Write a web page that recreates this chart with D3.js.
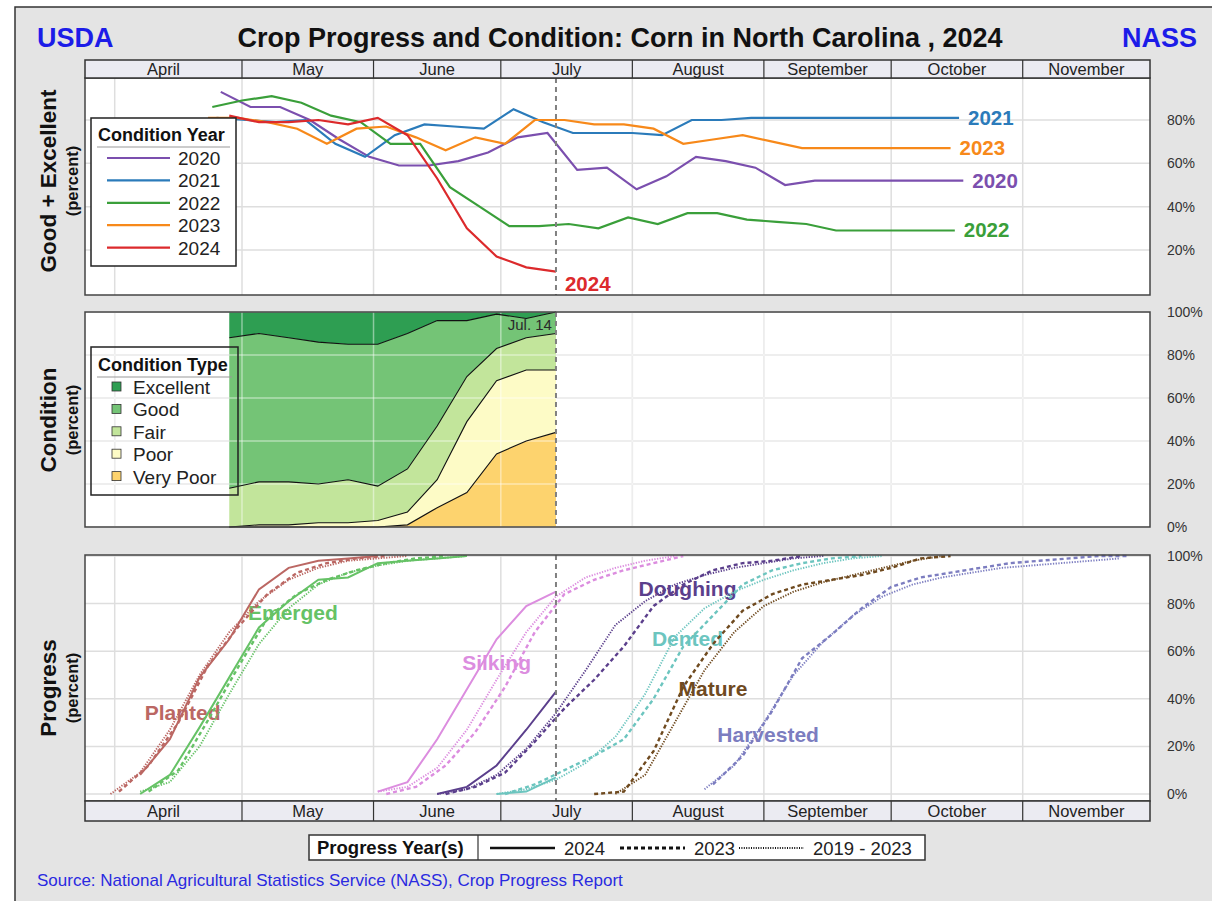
<!DOCTYPE html>
<html>
<head>
<meta charset="utf-8">
<script src="https://cdn.jsdelivr.net/npm/d3@7"></script>
<style>
  body { margin: 0; background: #fff; }
  svg { display: block; font-family: "Liberation Sans", Arial, sans-serif; }
</style>
</head>
<body>
<div id="chart"></div>
<script>
// Step 1: data

// header months and their first days
var monthNames = ["April", "May", "June", "July", "August", "September", "October", "November"];
var monthStarts = ["2024-04-01", "2024-05-01", "2024-06-01", "2024-07-01", "2024-08-01", "2024-09-01", "2024-10-01", "2024-11-01"];

// Good + Excellent (%), weekly from the first week ending of each year
var condYears = ["2020", "2021", "2022", "2023", "2024"];
var condYearStart = ["2020-04-26", "2021-04-25", "2022-04-24", "2023-04-23", "2024-04-28"];
var ge2020 = [93, 86, 86, 80, 71, 63, 59, 59, 61, 65, 72, 74, 57, 58, 48, 54, 63, 61, 58, 50, 52, 52, 52, 52, 52, 52];
var ge2021 = [81, 80, 79, 80, 69, 63, 73, 78, 77, 76, 85, 79, 74, 74, 74, 73, 80, 80, 81, 81, 81, 81, 81, 81, 81, 81];
var ge2022 = [86, 89, 91, 88, 82, 79, 69, 69, 49, 40, 31, 31, 32, 30, 35, 32, 37, 37, 34, 33, 32, 29, 29, 29, 29, 29];
var ge2023 = [81, 81, 79, 76, 69, 76, 77, 72, 66, 72, 69, 80, 80, 78, 78, 76, 69, 71, 73, 70, 67, 67, 67, 67, 67, 67];
var ge2024 = [82, 79, 79, 80, 78, 81, 73, 53, 30, 17, 12, 10];
var condYearColors = ["#7b4fae", "#2b7bba", "#3a9f3a", "#f7891a", "#dc2a2c"];

// 2024 condition by type (%), weekly from Apr 28
var condTypeStart = "2024-04-28";
var condTypes = ["Excellent", "Good", "Fair", "Poor", "Very Poor"];
var excellent = [12, 10, 12, 14, 15, 15, 10, 4, 4, 1, 3, 0];
var good = [70, 69, 67, 66, 63, 66, 63, 49, 26, 16, 9, 10];
var fair = [18, 20, 20, 18, 20, 16, 20, 25, 21, 15, 15, 17];
var poor = [0, 1, 1, 2, 2, 3, 6, 13, 33, 34, 33, 29];
var veryPoor = [0, 0, 0, 0, 0, 0, 1, 9, 16, 34, 40, 44];
var condTypeColors = ["#2e9e52", "#74c476", "#c2e59b", "#fdfbc6", "#fdd36e"];
var reportDate = "2024-07-14";

// progress (%), weekly; each stage: 2024, 2023, 2019-2023 average
var stages = ["Planted", "Emerged", "Silking", "Doughing", "Dented", "Mature", "Harvested"];
var stageColors = ["#bb6763", "#66c266", "#dc8ddf", "#5b3f8c", "#6cc5bf", "#6f4a1f", "#7c7dc0"];
var start2024 = ["2024-04-07", "2024-04-07", "2024-06-02", "2024-06-16", "2024-06-30", null, null];
var start2023 = ["2023-04-02", "2023-04-09", "2023-06-04", "2023-06-18", "2023-07-02", "2023-07-23", "2023-08-20"];
var startAvg = ["2024-03-31", "2024-04-07", "2024-06-02", "2024-06-16", "2024-06-30", "2024-07-28", "2024-08-18"];

var planted2024 = [8, 23, 49, 65, 86, 95, 98, 99, 100];
var planted2023 = [1, 12, 30, 54, 70, 84, 93, 97, 99, 100];
var plantedAvg = [0, 9, 27, 50, 68, 81, 90, 95, 98, 99, 100];
var emerged2024 = [0, 8, 28, 49, 70, 81, 90, 91, 97, 98, 99, 100];
var emerged2023 = [1, 10, 31, 53, 74, 84, 90, 94, 97, 99, 100];
var emergedAvg = [1, 5, 20, 42, 63, 78, 88, 93, 96, 98, 99, 100];
var silking2024 = [1, 5, 23, 44, 65, 79, 85];
var silking2023 = [0, 3, 12, 26, 45, 68, 84, 90, 94, 97, 100];
var silkingAvg = [1, 3, 11, 27, 48, 68, 83, 91, 95, 98, 100];
var doughing2024 = [0, 3, 12, 27, 43];
var doughing2023 = [0, 3, 9, 22, 36, 48, 62, 79, 88, 94, 97, 98, 100];
var doughingAvg = [0, 2, 8, 19, 34, 52, 71, 81, 88, 92, 95, 97, 99, 100];
var dented2024 = [0, 1, 7];
var dented2023 = [0, 4, 10, 16, 23, 40, 62, 75, 88, 94, 97, 99, 100];
var dentedAvg = [0, 2, 6, 13, 24, 42, 66, 78, 85, 90, 94, 97, 99, 100];
var mature2024 = [];
var mature2023 = [0, 1, 18, 45, 63, 77, 84, 88, 90, 92, 95, 99, 100];
var matureAvg = [0, 8, 30, 52, 68, 79, 85, 89, 92, 95, 98, 100];
var harvested2024 = [];
var harvested2023 = [4, 16, 35, 57, 67, 78, 87, 91, 93, 95, 97, 98, 99, 100, 100];
var harvestedAvg = [2, 12, 30, 50, 64, 75, 83, 88, 91, 93, 95, 96, 97, 98, 99];

// where the stage names sit (date, percent)
var stageLabelDate = ["2024-04-17", "2024-05-13", "2024-06-30", "2024-08-14", "2024-08-14", "2024-08-20", "2024-09-02"];
var stageLabelValue = [34, 76, 55, 86, 65, 44, 25];

var progressYears = ["2024", "2023", "2019 - 2023"];

// Step 2: scales
var width = 1212, height = 901;
var parse = d3.utcParse("%Y-%m-%d");
function onPlotYear(s) {
    var d = parse(s);
    return new Date(Date.UTC(2024, d.getUTCMonth(), d.getUTCDate()));
}
function weekly(start, values) {
    var d0 = onPlotYear(start);
    return values.map(function (v, i) { return { date: d3.utcDay.offset(d0, 7 * i), value: v }; });
}

var x = d3.scaleUtc()
    .domain([parse("2024-03-25"), parse("2024-12-01")])
    .range([85, 1150]);
var left = x.range()[0], right = x.range()[1];

var panels = [
    { top: 78, bottom: 295, y: d3.scaleLinear().domain([0, 100]).range([293.3, 76.7]), ticks: [20, 40, 60, 80], title: "Good + Excellent", cy: 181 },
    { top: 312, bottom: 527, y: d3.scaleLinear().domain([0, 100]).range([527, 312]), ticks: [0, 20, 40, 60, 80, 100], title: "Condition", cy: 420 },
    { top: 555, bottom: 801, y: d3.scaleLinear().domain([0, 100]).range([794, 556]), ticks: [0, 20, 40, 60, 80, 100], title: "Progress", cy: 688 }
];

var svg = d3.select("#chart").append("svg")
    .attr("width", width)
    .attr("height", height);

// Step 3: frame and titles
svg.append("rect").attr("x", 15).attr("y", 7).attr("width", width).attr("height", height)
    .attr("fill", "#e4e4e4").attr("stroke", "#333").attr("stroke-width", 1.5);

svg.append("text").attr("x", 37).attr("y", 47).text("USDA")
    .attr("font-size", 27).attr("font-weight", "bold").attr("fill", "#1c1ce8");
svg.append("text").attr("x", 1197).attr("y", 47).attr("text-anchor", "end").text("NASS")
    .attr("font-size", 27).attr("font-weight", "bold").attr("fill", "#1c1ce8");
svg.append("text").attr("x", 620).attr("y", 47).attr("text-anchor", "middle")
    .text("Crop Progress and Condition: Corn in North Carolina , 2024")
    .attr("font-size", 27).attr("font-weight", "bold").attr("fill", "#111");

svg.append("text").attr("x", 37).attr("y", 886)
    .text("Source: National Agricultural Statistics Service (NASS), Crop Progress Report")
    .attr("font-size", 17).attr("fill", "#2a2ae0");

// Step 4: month header rows
var monthDates = monthStarts.map(function (s) { return parse(s); });
var cells = monthNames.map(function (m, i) {
    return {
        name: m,
        x0: i === 0 ? left : x(monthDates[i]),
        x1: i === monthNames.length - 1 ? right : x(monthDates[i + 1])
    };
});

function monthHeader(y0, h) {
    var g = svg.append("g").attr("class", "month-header");
    g.append("rect").attr("x", left).attr("y", y0).attr("width", right - left).attr("height", h)
        .attr("fill", "#ebebf2").attr("stroke", "#333").attr("stroke-width", 1.5);
    g.selectAll("line").data(cells.slice(1)).enter().append("line")
        .attr("x1", function (d) { return d.x0; }).attr("x2", function (d) { return d.x0; })
        .attr("y1", y0).attr("y2", y0 + h)
        .attr("stroke", "#333").attr("stroke-width", 1.2);
    g.selectAll("text").data(cells).enter().append("text")
        .attr("x", function (d) { return (d.x0 + d.x1) / 2; })
        .attr("y", y0 + h / 2 + 5.5)
        .attr("text-anchor", "middle")
        .attr("font-size", 16.5).attr("fill", "#222")
        .text(function (d) { return d.name; });
}

// Step 5: panels
var lineFor = function (y) {
    return d3.line().x(function (d) { return x(d.date); }).y(function (d) { return y(d.value); });
};

function drawGrid(g, p, color, opacity) {
    g.append("g").selectAll("line").data(monthDates).enter().append("line")
        .attr("x1", function (d) { return x(d); }).attr("x2", function (d) { return x(d); })
        .attr("y1", p.top).attr("y2", p.bottom)
        .attr("stroke", color).attr("stroke-opacity", opacity).attr("stroke-width", 1.5);
    g.append("g").selectAll("line").data(p.ticks).enter().append("line")
        .attr("x1", left).attr("x2", right)
        .attr("y1", function (d) { return p.y(d); }).attr("y2", function (d) { return p.y(d); })
        .attr("stroke", color).attr("stroke-opacity", opacity).attr("stroke-width", 1.5);
}

panels.forEach(function (p, i) {
    p.g = svg.append("g").attr("class", "panel-" + i);
    p.g.append("rect").attr("x", left).attr("y", p.top).attr("width", right - left).attr("height", p.bottom - p.top)
        .attr("fill", "#fff");
    drawGrid(p.g, p, "#dedede", 1);
    p.layer = p.g.append("g");

    // right axis
    svg.append("g")
        .attr("transform", "translate(" + right + ",0)")
        .call(d3.axisRight(p.y).tickValues(p.ticks).tickSize(0).tickPadding(17)
            .tickFormat(function (d) { return d + "%"; }))
        .call(function (a) { a.select(".domain").remove(); })
        .selectAll("text").attr("font-size", 14).attr("fill", "#333")
        .attr("font-family", "Liberation Sans, Arial, sans-serif");

    // left titles
    svg.append("text")
        .attr("transform", "translate(56," + p.cy + ") rotate(-90)")
        .attr("text-anchor", "middle").attr("font-size", 22.5).attr("font-weight", "bold").attr("fill", "#111")
        .text(p.title);
    svg.append("text")
        .attr("transform", "translate(78," + p.cy + ") rotate(-90)")
        .attr("text-anchor", "middle").attr("font-size", 16.5).attr("font-weight", "bold").attr("fill", "#111")
        .text("(percent)");
});

// panel 1: good + excellent lines
var p1 = panels[0];
var geSeries = [ge2020, ge2021, ge2022, ge2023, ge2024].map(function (vals, i) {
    return { year: condYears[i], color: condYearColors[i], values: weekly(condYearStart[i], vals) };
});
p1.layer.selectAll(".ge").data(geSeries).enter().append("path")
    .attr("class", "ge")
    .attr("d", function (d) { return lineFor(p1.y)(d.values); })
    .attr("fill", "none")
    .attr("stroke", function (d) { return d.color; })
    .attr("stroke-width", 2.2);
p1.layer.selectAll(".ge-label").data(geSeries).enter().append("text")
    .attr("class", "ge-label")
    .attr("x", function (d) { return x(d.values[d.values.length - 1].date) + 9; })
    .attr("y", function (d, i) {
        var last = d.values[d.values.length - 1];
        return p1.y(last.value) + (i === 4 ? 19 : 7);
    })
    .attr("font-size", 20.5).attr("font-weight", "bold")
    .attr("fill", function (d) { return d.color; })
    .text(function (d) { return d.year; });

// panel 2: stacked condition
var p2 = panels[1];
var condDates = weekly(condTypeStart, excellent).map(function (d) { return d.date; });
var condRows = condDates.map(function (d, i) {
    return { date: d, veryPoor: veryPoor[i], poor: poor[i], fair: fair[i], good: good[i], excellent: excellent[i] };
});
var condKeys = ["veryPoor", "poor", "fair", "good", "excellent"];
var stacked = d3.stack().keys(condKeys)(condRows);
var area = d3.area()
    .x(function (d) { return x(d.data.date); })
    .y0(function (d) { return p2.y(d[0]); })
    .y1(function (d) { return p2.y(d[1]); });
p2.layer.selectAll(".cond").data(stacked).enter().append("path")
    .attr("class", "cond")
    .attr("d", area)
    .attr("fill", function (d, i) { return condTypeColors[4 - i]; });
drawGrid(p2.layer, p2, "#ffffff", 0.45);
var topLine = d3.line().x(function (d) { return x(d.data.date); }).y(function (d) { return p2.y(d[1]); });
p2.layer.selectAll(".cond-edge").data(stacked.slice(0, 4)).enter().append("path")
    .attr("class", "cond-edge")
    .attr("d", topLine)
    .attr("fill", "none").attr("stroke", "#111").attr("stroke-width", 1.1);
p2.layer.append("text")
    .attr("x", x(parse(reportDate)) - 4).attr("y", p2.top + 18)
    .attr("text-anchor", "end").attr("font-size", 15).attr("fill", "#2a2a2a")
    .text("Jul. 14");

// panel 3: progress
var p3 = panels[2];
var byStage = [
    [planted2024, planted2023, plantedAvg],
    [emerged2024, emerged2023, emergedAvg],
    [silking2024, silking2023, silkingAvg],
    [doughing2024, doughing2023, doughingAvg],
    [dented2024, dented2023, dentedAvg],
    [mature2024, mature2023, matureAvg],
    [harvested2024, harvested2023, harvestedAvg]
];
var styles = [
    { dash: null, w: 2 },
    { dash: "4,3", w: 2.4 },
    { dash: "1.3,1.4", w: 1.9 }
];

p3.layer.selectAll(".stage-label").data(stages).enter().append("text")
    .attr("class", "stage-label")
    .attr("x", function (d, i) { return x(parse(stageLabelDate[i])); })
    .attr("y", function (d, i) { return p3.y(stageLabelValue[i]) + 7; })
    .attr("text-anchor", "middle")
    .attr("font-size", 21).attr("font-weight", "bold")
    .attr("fill", function (d, i) { return stageColors[i]; })
    .text(function (d) { return d; });

var progLines = [];
byStage.forEach(function (sets, i) {
    var starts = [start2024[i], start2023[i], startAvg[i]];
    sets.forEach(function (vals, k) {
        if (vals.length) progLines.push({ color: stageColors[i], style: styles[k], values: weekly(starts[k], vals) });
    });
});
p3.layer.selectAll(".prog").data(progLines).enter().append("path")
    .attr("class", "prog")
    .attr("d", function (d) { return lineFor(p3.y)(d.values); })
    .attr("fill", "none")
    .attr("stroke", function (d) { return d.color; })
    .attr("stroke-width", function (d) { return d.style.w; })
    .attr("stroke-dasharray", function (d) { return d.style.dash; });

// report date marker and borders
panels.forEach(function (p) {
    p.g.append("line")
        .attr("x1", x(parse(reportDate))).attr("x2", x(parse(reportDate)))
        .attr("y1", p.top).attr("y2", p.bottom)
        .attr("stroke", "#808080").attr("stroke-width", 2).attr("stroke-dasharray", "5,4");
    p.g.append("rect").attr("x", left).attr("y", p.top).attr("width", right - left).attr("height", p.bottom - p.top)
        .attr("fill", "none").attr("stroke", "#444").attr("stroke-width", 1.5);
});

monthHeader(60, 18);
monthHeader(801, 20);

// Step 6: legends
var leg1 = svg.append("g").attr("transform", "translate(91,118)");
leg1.append("rect").attr("width", 145).attr("height", 148)
    .attr("fill", "#fff").attr("stroke", "#222").attr("stroke-width", 1.5);
leg1.append("text").attr("x", 7).attr("y", 23).text("Condition Year")
    .attr("font-size", 18).attr("font-weight", "bold").attr("fill", "#111");
leg1.append("line").attr("x1", 6).attr("x2", 139).attr("y1", 29).attr("y2", 29).attr("stroke", "#999");
var l1 = leg1.selectAll(".item").data(condYears).enter().append("g")
    .attr("transform", function (d, i) { return "translate(0," + (40 + i * 22.4) + ")"; });
l1.append("line").attr("x1", 16).attr("x2", 79)
    .attr("stroke", function (d, i) { return condYearColors[i]; }).attr("stroke-width", 2.2);
l1.append("text").attr("x", 87).attr("y", 7).text(function (d) { return d; })
    .attr("font-size", 19).attr("fill", "#222");

var leg2 = svg.append("g").attr("transform", "translate(91,347)");
leg2.append("rect").attr("width", 147).attr("height", 148)
    .attr("fill", "none").attr("stroke", "#222").attr("stroke-width", 1.5);
leg2.append("text").attr("x", 7).attr("y", 24).text("Condition Type")
    .attr("font-size", 18).attr("font-weight", "bold").attr("fill", "#111");
leg2.append("line").attr("x1", 6).attr("x2", 141).attr("y1", 30).attr("y2", 30).attr("stroke", "#999");
var l2 = leg2.selectAll(".item").data(condTypes).enter().append("g")
    .attr("transform", function (d, i) { return "translate(0," + (40 + i * 22.4) + ")"; });
l2.append("rect").attr("x", 21).attr("y", -5).attr("width", 9).attr("height", 9)
    .attr("fill", function (d, i) { return condTypeColors[i]; }).attr("stroke", "#333").attr("stroke-width", 0.8);
l2.append("text").attr("x", 42).attr("y", 7).text(function (d) { return d; })
    .attr("font-size", 19).attr("fill", "#222");

var leg3 = svg.append("g").attr("transform", "translate(309,835)");
leg3.append("rect").attr("width", 616).attr("height", 25)
    .attr("fill", "#fff").attr("stroke", "#333").attr("stroke-width", 1.5);
leg3.append("line").attr("x1", 169).attr("x2", 169).attr("y1", 0).attr("y2", 25).attr("stroke", "#333").attr("stroke-width", 1.2);
leg3.append("text").attr("x", 8).attr("y", 19).text("Progress Year(s)")
    .attr("font-size", 18.5).attr("font-weight", "bold").attr("fill", "#111");
var legX = [181, 311, 430];
var l3 = leg3.selectAll(".item").data(progressYears).enter().append("g")
    .attr("transform", function (d, i) { return "translate(" + legX[i] + ",13)"; });
l3.append("line").attr("x1", 0).attr("x2", 65)
    .attr("stroke", "#111")
    .attr("stroke-width", function (d, i) { return [2.6, 3, 1.8][i]; })
    .attr("stroke-dasharray", function (d, i) { return [null, "4,3", "1,1.4"][i]; });
l3.append("text").attr("x", 74).attr("y", 6.5).text(function (d) { return d; })
    .attr("font-size", 18.5).attr("fill", "#222");
</script>
</body>
</html>
